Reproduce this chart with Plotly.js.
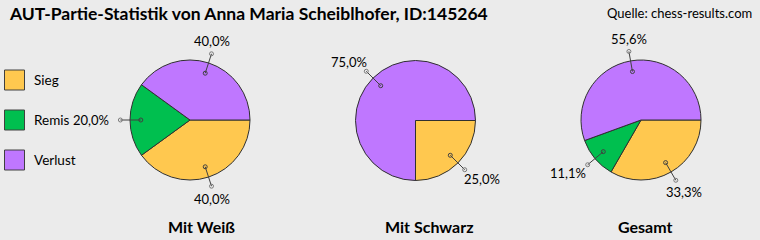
<!DOCTYPE html>
<html>
<head>
<meta charset="utf-8">
<script src="https://cdn.plot.ly/plotly-3.0.1.min.js"></script>
<style>
  html, body { margin: 0; padding: 0; background: #EBEBEB; }
  #chart { width: 760px; height: 240px; }
</style>
</head>
<body>
<div id="chart"></div>
<script>
// Game results per colour
const categories = ['Sieg', 'Remis', 'Verlust'];
const mitWeiss = [2, 1, 2];
const mitSchwarz = [1, 0, 3];
const gesamt = [3, 1, 5];
const chartTitles = ['Mit Weiß', 'Mit Schwarz', 'Gesamt'];
const mainTitle = 'AUT-Partie-Statistik von Anna Maria Scheiblhofer, ID:145264';
const sourceNote = 'Quelle: chess-results.com';

// Styling and placement
const sliceColors = ['#FFC84F', '#00BF4F', '#BF77FF'];
const W = 760, H = 240, R = 60;
const pieCenters = [[190, 120], [415.5, 120.5], [641, 120]];
const titleCenters = [201, 429, 645.5];
const FONT = 'Lato, "Open Sans", sans-serif';

const series = [mitWeiss, mitSchwarz, gesamt];

// pixel -> paper helpers (margins are zero)
const px = x => x / W;
const py = y => 1 - y / H;

const fmtPct = (v, t) => (v / t * 100).toFixed(1).replace('.', ',') + '%';

const traces = [];
const shapes = [];
const annotations = [];

series.forEach((vals, i) => {
  const [cx, cy] = pieCenters[i];
  traces.push({
    type: 'pie',
    labels: categories,
    values: vals,
    sort: false,
    direction: 'clockwise',
    rotation: 90,
    textinfo: 'none',
    hoverinfo: 'label+percent',
    showlegend: false,
    marker: { colors: sliceColors, line: { color: '#303030', width: 1 } },
    domain: { x: [px(cx - R), px(cx + R)], y: [py(cy + R), py(cy - R)] }
  });

  // leader lines with end dots and percentage labels
  const total = vals.reduce((a, b) => a + b, 0);
  let cum = 0;
  vals.forEach((v, k) => {
    if (v > 0) {
      const f = (cum + v / 2) / total;
      const th = f * 2 * Math.PI;
      const c = Math.cos(th), s = Math.sin(th);
      const ix = cx + c * R * 0.82, iy = cy + s * R * 0.82;
      const ox = cx + c * R * 1.16, oy = cy + s * R * 1.16;
      shapes.push({ type: 'line', xref: 'paper', yref: 'paper',
        x0: px(ix), y0: py(iy), x1: px(ox), y1: py(oy),
        line: { color: '#404040', width: 1 } });
      const dr = 2;
      shapes.push({ type: 'circle', xref: 'paper', yref: 'paper',
        x0: px(ix - dr), x1: px(ix + dr), y0: py(iy + dr), y1: py(iy - dr),
        line: { color: '#404040', width: 1 }, fillcolor: 'rgba(0,0,0,0)' });
      shapes.push({ type: 'circle', xref: 'paper', yref: 'paper',
        x0: px(ox - dr), x1: px(ox + dr), y0: py(oy + dr), y1: py(oy - dr),
        line: { color: '#7A7A7A', width: 1 }, fillcolor: 'rgba(0,0,0,0)' });
      const sx = Math.sign(c) * Math.max(0, Math.abs(c) - 0.3) / 0.7 * 29;
      const lx = ox + sx, ly = oy + s * 13;
      annotations.push({ xref: 'paper', yref: 'paper', x: px(lx), y: py(ly),
        xanchor: 'center', yanchor: 'middle', showarrow: false,
        text: fmtPct(v, total), font: { family: FONT, size: 13, color: '#000' } });
    }
    cum += v;
  });

  annotations.push({ xref: 'paper', yref: 'paper', x: px(titleCenters[i]), y: py(226),
    xanchor: 'center', yanchor: 'middle', showarrow: false,
    text: '<b>' + chartTitles[i] + '</b>', font: { family: FONT, size: 16, color: '#000' } });
});

// legend boxes and labels
const legendY = [80, 120, 160];
categories.forEach((name, k) => {
  const y = legendY[k];
  shapes.push({ type: 'rect', xref: 'paper', yref: 'paper',
    x0: px(4.5), x1: px(24.5), y0: py(y + 10), y1: py(y - 10),
    fillcolor: sliceColors[k], line: { color: '#404040', width: 1 } });
  annotations.push({ xref: 'paper', yref: 'paper', x: px(32), y: py(y),
    xanchor: 'left', yanchor: 'middle', showarrow: false,
    text: name, font: { family: FONT, size: 13.5, color: '#000' } });
});

annotations.push({ xref: 'paper', yref: 'paper', x: px(7), y: py(13),
  xanchor: 'left', yanchor: 'middle', showarrow: false,
  text: '<b>' + mainTitle + '</b>', font: { family: FONT, size: 17.5, color: '#000' } });
annotations.push({ xref: 'paper', yref: 'paper', x: px(754), y: py(13),
  xanchor: 'right', yanchor: 'middle', showarrow: false,
  text: sourceNote, font: { family: FONT, size: 13, color: '#000' } });

const layout = {
  width: W, height: H,
  margin: { l: 0, r: 0, t: 0, b: 0 },
  paper_bgcolor: '#EBEBEB', plot_bgcolor: '#EBEBEB',
  showlegend: false,
  shapes, annotations
};

Plotly.newPlot('chart', traces, layout, { displayModeBar: false, staticPlot: true });
</script>
</body>
</html>
